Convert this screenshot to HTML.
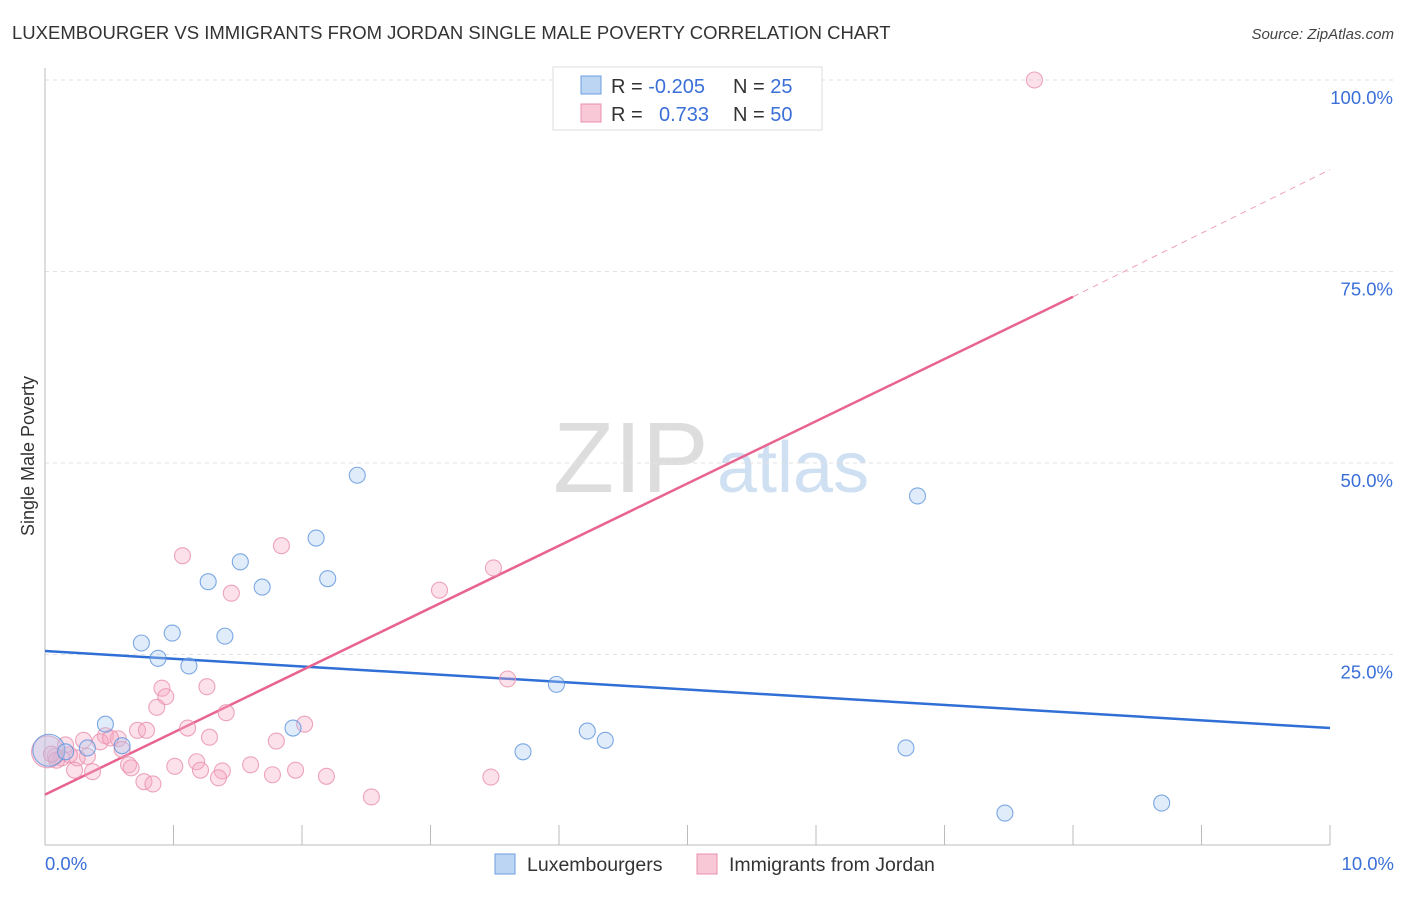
<!DOCTYPE html>
<html><head><meta charset="utf-8">
<style>
body{margin:0;background:#fff;font-family:"Liberation Sans",sans-serif;}
svg text{font-family:"Liberation Sans",sans-serif;}
</style></head>
<body>
<svg id="chart" width="1406" height="892" xmlns="http://www.w3.org/2000/svg">
<text x="12" y="39" font-size="18.5" fill="#333">LUXEMBOURGER VS IMMIGRANTS FROM JORDAN SINGLE MALE POVERTY CORRELATION CHART</text>
<text x="1394" y="39" font-size="15" fill="#444" text-anchor="end" font-style="italic">Source: ZipAtlas.com</text>
<text x="553" y="492" font-size="100" font-family="Liberation Serif" fill="#ddd">ZIP</text>
<text x="717" y="492" font-size="72" fill="#cfe0f3">atlas</text>
<g id="grid"></g>
<g id="axes"></g>
<g id="lines"></g>
<g id="points"></g>
<text transform="translate(34,456) rotate(-90)" font-size="18" fill="#333" text-anchor="middle">Single Male Poverty</text>
<g>
<rect x="553" y="67" width="269" height="63" fill="#fff" stroke="#ddd"/>
<rect x="581" y="76" width="20" height="18" fill="#bcd5f3" stroke="#6b9ee0"/>
<rect x="581" y="104" width="20" height="18" fill="#f8c8d7" stroke="#e890ad"/>
<text x="611" y="93" font-size="20" fill="#333">R = <tspan fill="#3a6fd8">-0.205</tspan></text>
<text x="733" y="93" font-size="20" fill="#333">N = <tspan fill="#3a6fd8">25</tspan></text>
<text x="611" y="121" font-size="20" fill="#333">R = <tspan fill="#3a6fd8" x="659">0.733</tspan></text>
<text x="733" y="121" font-size="20" fill="#333">N = <tspan fill="#3a6fd8">50</tspan></text>
</g>
<g>
<rect x="495" y="854" width="20" height="20" fill="#bcd5f3" stroke="#6b9ee0"/>
<text x="527" y="871" font-size="19.5" fill="#333">Luxembourgers</text>
<rect x="697" y="854" width="20" height="20" fill="#f8c8d7" stroke="#e890ad"/>
<text x="729" y="871" font-size="19.5" fill="#333">Immigrants from Jordan</text>
</g>
</svg>
<script>
const blueX=[0.03,0.16,0.33,0.47,0.60,0.75,0.88,0.99,1.12,1.27,1.40,1.52,1.69,1.93,2.11,2.20,2.43,3.72,3.98,4.22,4.36,6.70,6.79,7.47,8.69];
const blueY=[12.5,12.3,12.8,15.9,13.1,26.5,24.5,27.8,23.5,34.5,27.4,37.1,33.8,15.4,40.2,34.9,48.4,12.3,21.1,15.0,13.8,12.8,45.7,4.3,5.6];
const pinkX=[7.70,1.07,1.84,1.45,3.07,3.49,3.60,0.91,0.94,1.26,0.87,1.41,1.11,1.28,2.02,1.80,0.72,0.79,0.47,0.57,0.43,0.30,0.33,0.25,0.13,0.08,0.02,0.23,0.37,0.65,0.67,1.01,1.18,1.21,1.38,1.35,1.60,1.77,1.95,2.19,0.77,0.84,2.54,3.47,0.51,0.19,0.09,0.16,0.05,0.60];
const pinkY=[100,37.9,39.2,33.0,33.4,36.3,21.8,20.6,19.5,20.8,18.1,17.4,15.4,14.2,15.9,13.7,15.1,15.1,14.4,14.0,13.6,13.8,11.7,11.5,11.5,11.7,12.3,9.9,9.7,10.6,10.2,10.4,11.0,9.9,9.8,8.9,10.6,9.3,9.9,9.1,8.4,8.1,6.4,9.0,14.1,11.9,11.2,13.2,12.0,12.6];
const blueTrend=[[0,25.45],[10,15.4]];
const pinkTrend=[[0,6.7],[8,71.7]];
const pinkTrendExt=[[8,71.7],[10,88.3]];
const yTicks=[25,50,75,100];
const yTickLabels=["25.0%","50.0%","75.0%","100.0%"];
const NS="http://www.w3.org/2000/svg";
const X=v=>45+v*128.5, Y=v=>846-v*7.66;
function mk(tag,attrs,parent){const e=document.createElementNS(NS,tag);for(const k in attrs)e.setAttribute(k,attrs[k]);document.getElementById(parent).appendChild(e);return e;}
yTicks.forEach((t,i)=>{
 const g=mk('line',{x1:45,x2:1394,y1:Y(t),y2:Y(t),stroke:'#e2e2e2','stroke-dasharray':'4,4'},'grid');
 
 
 const tx=mk('text',{x:1393,y:Y(t)+24,'font-size':18.5,fill:'#3a6fd8','text-anchor':'end'},'grid');
 tx.textContent=yTickLabels[i];
 
 
});
let a=mk('line',{x1:45,x2:45,y1:68,y2:845,stroke:'#bbb'},'axes');


a=mk('line',{x1:45,x2:1330,y1:845,y2:845,stroke:'#bbb'},'axes');


for(let i=0;i<=10;i++){const t=mk('line',{x1:X(i),x2:X(i),y1:825,y2:845,stroke:'#bbb'},'axes');
 
 }
let l=mk('text',{x:45,y:870,'font-size':18.5,fill:'#3a6fd8'},'axes');l.textContent='0.0%';


l=mk('text',{x:1394,y:870,'font-size':18.5,fill:'#3a6fd8','text-anchor':'end'},'axes');l.textContent='10.0%';


function line(p,col,dash,name){const e=mk('line',{x1:X(p[0][0]),y1:Y(p[0][1]),x2:X(p[1][0]),y2:Y(p[1][1]),stroke:col,'stroke-width':dash?1:2.5,'stroke-dasharray':dash?'6,5':'none'},'lines');
 
 }
line(blueTrend,'#2f6fd6',false,'luxembourgers-trendline');
line(pinkTrend,'#e8648f',false,'jordan-trendline');
line(pinkTrendExt,'#f0a0b8',true,'jordan-trendline-extension');
function pts(xs,ys,fill,stroke,name,big){xs.forEach((x,i)=>{const c=mk('circle',{cx:X(x),cy:Y(ys[i]),r:(i===big)?16:8,fill:fill,'fill-opacity':0.35,stroke:stroke,'stroke-width':1.1,'stroke-opacity':0.8},'points');
 
 });}
pts(pinkX,pinkY,'#f5aac3','#e890ad','jordan-point',26);
pts(blueX,blueY,'#a9c9f0','#5c93dd','luxembourgers-point',0);
</script>
</body></html>
